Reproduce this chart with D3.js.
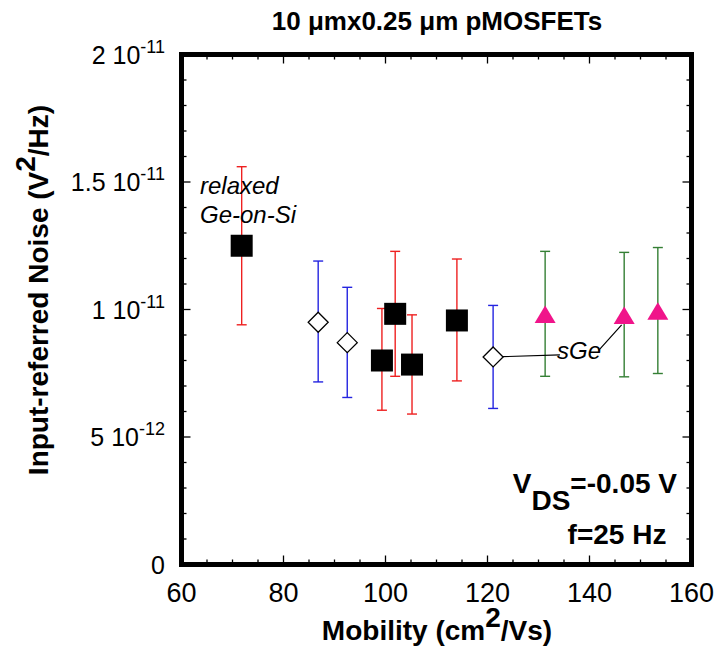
<!DOCTYPE html>
<html>
<head>
<meta charset="utf-8">
<script src="https://cdn.jsdelivr.net/npm/d3@7"></script>
<style>
body { margin: 0; background: #fff; }
text { font-family: "Liberation Sans", Arial, sans-serif; }
</style>
</head>
<body>
<svg width="721" height="655"></svg>
<script>
// noise values are in units of 1e-12 V^2/Hz
var geMob = [71.8, 99.3, 101.9, 105.2, 114.0],
    geNoise = [12.5, 8.0, 9.83, 7.84, 9.57],
    geHi = [15.6, 10.04, 12.28, 9.79, 11.98],
    geLo = [9.4, 6.05, 7.38, 5.9, 7.2];

var sgeMob = [86.8, 92.5, 121.1],
    sgeNoise = [9.5, 8.7, 8.14],
    sgeHi = [11.9, 10.87, 10.16],
    sgeLo = [7.16, 6.55, 6.12];

var triMob = [131.3, 146.8, 153.4],
    triNoise = [9.8, 9.76, 9.93],
    triHi = [12.28, 12.24, 12.43],
    triLo = [7.38, 7.36, 7.49];

var xTicks = [60, 80, 100, 120, 140, 160];
var yTicks = [0, 5, 10, 15, 20];
var yTickBase = ["0", "5 10", "1 10", "1.5 10", "2 10"];
var yTickExp = ["", "-12", "-11", "-11", "-11"];

var svg = d3.select("svg"),
    pLeft = 181.5, pRight = 691.5, pTop = 54.5, pBottom = 564.5;

var x = d3.scaleLinear().domain([60, 160]).range([pLeft, pRight]);
var y = d3.scaleLinear().domain([0, 20]).range([pBottom, pTop]);

function pack(mob, noise, hi, lo) {
  return mob.map(function(m, i) { return {x: m, y: noise[i], hi: hi[i], lo: lo[i]}; });
}
var ge = pack(geMob, geNoise, geHi, geLo),
    sge = pack(sgeMob, sgeNoise, sgeHi, sgeLo),
    tri = pack(triMob, triNoise, triHi, triLo);

// ticks, inward on all four sides
var g = svg.append("g");
d3.range(60, 161, 5).forEach(function(v) {
  var len = v % 20 == 0 ? 9 : 5;
  g.append("line").attr("x1", x(v)).attr("x2", x(v)).attr("y1", pBottom).attr("y2", pBottom - len);
  g.append("line").attr("x1", x(v)).attr("x2", x(v)).attr("y1", pTop).attr("y2", pTop + len);
});
d3.range(0, 20.1, 1).forEach(function(v) {
  var len = v % 5 == 0 ? 9 : 5;
  g.append("line").attr("y1", y(v)).attr("y2", y(v)).attr("x1", pLeft).attr("x2", pLeft + len);
  g.append("line").attr("y1", y(v)).attr("y2", y(v)).attr("x1", pRight).attr("x2", pRight - len);
});
g.selectAll("line").attr("stroke", "#000").attr("stroke-width", 1.3);

// tick labels
svg.append("g").selectAll("text").data(xTicks).enter().append("text")
  .attr("x", function(d) { return x(d); })
  .attr("y", 602)
  .attr("text-anchor", "middle")
  .attr("font-size", 27)
  .text(function(d) { return d; });

var yl = svg.append("g").selectAll("text").data(yTicks).enter().append("text")
  .attr("x", 165)
  .attr("y", function(d) { return y(d) + 9; })
  .attr("text-anchor", "end")
  .attr("font-size", 25);
yl.append("tspan").text(function(d, i) { return yTickBase[i]; });
yl.append("tspan").attr("dy", -11).attr("font-size", 18).text(function(d, i) { return yTickExp[i]; });

// error bars
function errorBars(data, color) {
  var eb = svg.append("g").attr("stroke", color).attr("stroke-width", 1.4);
  data.forEach(function(d) {
    eb.append("line").attr("x1", x(d.x)).attr("x2", x(d.x)).attr("y1", y(d.hi)).attr("y2", y(d.lo));
    eb.append("line").attr("x1", x(d.x) - 5).attr("x2", x(d.x) + 5).attr("y1", y(d.hi)).attr("y2", y(d.hi));
    eb.append("line").attr("x1", x(d.x) - 5).attr("x2", x(d.x) + 5).attr("y1", y(d.lo)).attr("y2", y(d.lo));
  });
}
errorBars(ge, "#ee2020");
errorBars(sge, "#2424e0");
errorBars(tri, "#347f34");

// annotation leader lines for sGe
svg.append("path")
  .attr("d", "M" + x(121.1) + "," + y(8.14) + "L" + x(134.2) + "," + y(8.22) +
             "M" + x(141.8) + "," + y(8.4) + "L" + x(146.3) + "," + y(9.4))
  .attr("stroke", "#000").attr("stroke-width", 1.2).attr("fill", "none");

// markers
svg.append("g").selectAll("rect").data(ge).enter().append("rect")
  .attr("x", function(d) { return x(d.x) - 11; })
  .attr("y", function(d) { return y(d.y) - 11; })
  .attr("width", 22).attr("height", 22)
  .attr("fill", "#000");

svg.append("g").selectAll("path").data(sge).enter().append("path")
  .attr("transform", function(d) { return "translate(" + x(d.x) + "," + y(d.y) + ")"; })
  .attr("d", "M0,-10L10,0L0,10L-10,0Z")
  .attr("fill", "#fff").attr("stroke", "#000").attr("stroke-width", 1.3);

svg.append("g").selectAll("path").data(tri).enter().append("path")
  .attr("transform", function(d) { return "translate(" + x(d.x) + "," + y(d.y) + ")"; })
  .attr("d", "M0,-9L10.5,8.5L-10.5,8.5Z")
  .attr("fill", "#f0148a");

// frame
svg.append("rect")
  .attr("x", pLeft).attr("y", pTop)
  .attr("width", pRight - pLeft).attr("height", pBottom - pTop)
  .attr("fill", "none").attr("stroke", "#000").attr("stroke-width", 5);

// texts
svg.append("text").attr("x", 437).attr("y", 30).attr("text-anchor", "middle")
  .attr("font-size", 26).attr("font-weight", "bold")
  .text("10 \u03bcmx0.25 \u03bcm pMOSFETs");

var xt = svg.append("text").attr("x", 437).attr("y", 640).attr("text-anchor", "middle")
  .attr("font-size", 28).attr("font-weight", "bold");
xt.append("tspan").text("Mobility (cm");
xt.append("tspan").attr("dy", -13).text("2");
xt.append("tspan").attr("dy", 13).text("/Vs)");

var ytl = svg.append("text").attr("transform", "translate(48,290) rotate(-90)")
  .attr("text-anchor", "middle").attr("font-size", 28).attr("font-weight", "bold");
ytl.append("tspan").text("Input-referred Noise (V");
ytl.append("tspan").attr("dy", -13).text("2");
ytl.append("tspan").attr("dy", 13).text("/Hz)");

svg.append("text").attr("x", 200).attr("y", 194).attr("font-size", 24).attr("font-style", "italic").text("relaxed");
svg.append("text").attr("x", 200).attr("y", 223).attr("font-size", 24).attr("font-style", "italic").text("Ge-on-Si");
svg.append("text").attr("x", 557).attr("y", 359).attr("font-size", 24).attr("font-style", "italic").text("sGe");

var vds = svg.append("text").attr("x", 677).attr("y", 493).attr("text-anchor", "end")
  .attr("font-size", 28).attr("font-weight", "bold");
vds.append("tspan").text("V");
vds.append("tspan").attr("dy", 17).text("DS");
vds.append("tspan").attr("dy", -17).text("=-0.05 V");

svg.append("text").attr("x", 617).attr("y", 544).attr("text-anchor", "middle")
  .attr("font-size", 28).attr("font-weight", "bold").text("f=25 Hz");
</script>
</body>
</html>
